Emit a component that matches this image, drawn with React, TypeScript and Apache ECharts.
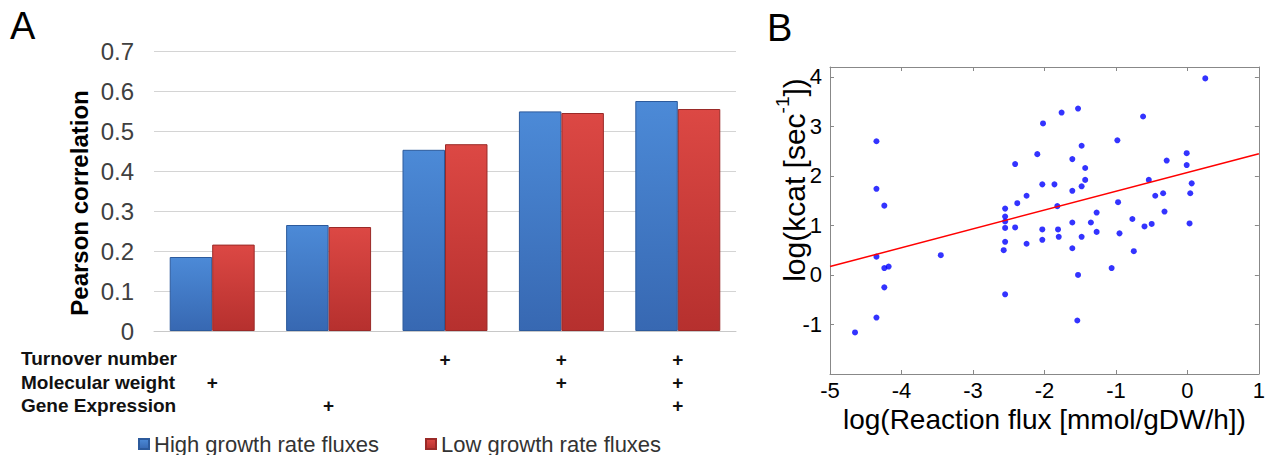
import React, { useEffect, useRef } from 'react';
import * as echarts from 'echarts';

// Panel A data
const combos = ['MW', 'GE', 'TN', 'TN+MW', 'TN+MW+GE'];
const highGrowth = [0.185, 0.265, 0.453, 0.549, 0.575];
const lowGrowth = [0.216, 0.26, 0.467, 0.545, 0.555];
const featureNames = ['Turnover number', 'Molecular weight', 'Gene Expression'];
const turnoverUsed = [0, 0, 1, 1, 1];
const mwUsed = [1, 0, 0, 1, 1];
const geneUsed = [0, 1, 0, 0, 1];
const seriesNames = ['High growth rate fluxes', 'Low growth rate fluxes'];

// Panel B data
const fluxLog = [
  -4.65, -4.35, -4.35, -4.24, -4.35, -4.24, -4.18, -4.24, -4.35, -3.45,
  -2.55, -2.55, -2.55, -2.55, -2.55, -2.57, -2.55, -2.41, -2.38, -2.41,
  -2.25, -2.25, -2.02, -1.76, -1.53, -2.10, -1.48, -1.61, -1.43, -1.43,
  -1.48, -1.61, -2.03, -1.86, -1.82, -2.03, -2.03, -1.81, -1.80, -1.61,
  -1.61, -1.48, -1.53, -1.54, -1.35, -1.27, -1.27, -1.06, -0.98, -0.97,
  -0.95, -0.77, -0.75, -0.62, -0.54, -0.60, -0.50, -0.45, -0.34, -0.29,
  -0.32, -0.01, -0.01, 0.06, 0.04, 0.03, 0.25,
];
const kcatLog = [
  -1.16, 2.70, 1.74, 1.40, 0.37, 0.14, 0.17, -0.25, -0.86, 0.40,
  1.34, 1.18, 1.08, 0.95, 0.67, 0.50, -0.39, 2.24, 1.45, 0.96,
  1.60, 0.63, 3.06, 3.28, 3.36, 2.44, 2.61, 2.34, 2.16, 1.92,
  1.79, 1.70, 1.83, 1.83, 1.39, 0.92, 0.71, 0.92, 0.77, 1.06,
  0.54, 0.77, 0.00, -0.92, 1.06, 1.26, 0.87, 0.14, 2.72, 1.47,
  0.84, 1.13, 0.48, 3.20, 1.92, 0.98, 1.03, 1.60, 1.65, 2.31,
  1.28, 2.46, 2.22, 1.85, 1.65, 1.04, 3.97,
];
const fitX = [-5, 1];
const fitY = [0.17, 2.45];

const FONT = '"Liberation Sans", Arial, sans-serif';

export default function App() {
  const ref = useRef<HTMLDivElement>(null);
  useEffect(() => {
    if (!ref.current) return;
    const chart = echarts.init(ref.current, undefined, { renderer: 'svg' });
    const blue = new echarts.graphic.LinearGradient(0, 0, 0, 1, [
      { offset: 0, color: '#4c8ad7' },
      { offset: 1, color: '#3768b2' },
    ]);
    const red = new echarts.graphic.LinearGradient(0, 0, 0, 1, [
      { offset: 0, color: '#dc4844' },
      { offset: 1, color: '#b6302e' },
    ]);
    const featureRows = [turnoverUsed, mwUsed, geneUsed];
    const rowY = [358, 382, 405];
    const boxAxis = {
      axisLine: { show: true, onZero: false, lineStyle: { color: '#888' } },
      axisTick: { show: true, inside: true, length: 4, lineStyle: { color: '#888' } },
      splitLine: { show: false },
    };
    const option: any = {
      animation: false,
      backgroundColor: '#ffffff',
      textStyle: { fontFamily: FONT },
      grid: [
        { left: 154, top: 51, width: 582, height: 280 },
        { left: 830, top: 67, width: 434, height: 307 },
      ],
      legend: {
        data: seriesNames,
        left: 133,
        top: 428,
        icon: 'rect',
        itemWidth: 10,
        itemHeight: 10,
        itemGap: 46,
        textStyle: { fontSize: 22, color: '#333', fontFamily: FONT },
      },
      xAxis: [
        {
          gridIndex: 0,
          type: 'category',
          data: combos,
          axisLine: { lineStyle: { color: '#c8c8c8' } },
          axisTick: { show: false },
          axisLabel: {
            interval: 0,
            margin: 17,
            fontSize: 19,
            fontWeight: 'bold',
            lineHeight: 23,
            color: '#111',
            formatter: (_v: string, idx: number) =>
              featureRows.map((r) => (r[idx] ? '+' : ' ')).join('\n'),
          },
        },
        {
          gridIndex: 1,
          type: 'value',
          position: 'bottom',
          min: -5,
          max: 1,
          interval: 1,
          ...boxAxis,
          axisLabel: { fontSize: 22, color: '#000', margin: 5 },
          name: 'log(Reaction flux [mmol/gDW/h])',
          nameLocation: 'middle',
          nameGap: 17,
          nameTextStyle: { fontSize: 28, color: '#000', fontFamily: FONT },
        },
        {
          gridIndex: 1,
          type: 'value',
          position: 'top',
          min: -5,
          max: 1,
          interval: 1,
          ...boxAxis,
          axisLabel: { show: false },
        },
      ],
      yAxis: [
        {
          gridIndex: 0,
          type: 'value',
          min: 0,
          max: 0.7,
          interval: 0.1,
          axisLine: { show: false },
          axisTick: { show: false },
          axisLabel: {
            fontSize: 24,
            color: '#404040',
            margin: 20,
            formatter: (v: number) => (v === 0 ? '0' : v.toFixed(1)),
          },
          splitLine: { lineStyle: { color: '#d4d4d4' } },
        },
        {
          gridIndex: 1,
          type: 'value',
          position: 'left',
          min: -2,
          max: 4.2,
          interval: 1,
          ...boxAxis,
          axisLabel: {
            fontSize: 22,
            color: '#000',
            margin: 8,
            formatter: (v: number) => (Number.isInteger(v) && v > -2 ? String(v) : ''),
          },
        },
        {
          gridIndex: 1,
          type: 'value',
          position: 'right',
          min: -2,
          max: 4.2,
          interval: 1,
          ...boxAxis,
          axisLabel: { show: false },
        },
      ],
      series: [
        {
          name: seriesNames[0],
          type: 'bar',
          xAxisIndex: 0,
          yAxisIndex: 0,
          data: highGrowth,
          barGap: '0%',
          barCategoryGap: '27%',
          itemStyle: { color: blue, borderColor: '#2c5a9c', borderWidth: 1 },
        },
        {
          name: seriesNames[1],
          type: 'bar',
          xAxisIndex: 0,
          yAxisIndex: 0,
          data: lowGrowth,
          barGap: '0%',
          barCategoryGap: '27%',
          itemStyle: { color: red, borderColor: '#9a2a28', borderWidth: 1 },
        },
        {
          name: 'points',
          type: 'scatter',
          xAxisIndex: 1,
          yAxisIndex: 1,
          symbolSize: 6,
          itemStyle: { color: '#0000ff' },
          data: fluxLog.map((x, i) => [x, kcatLog[i]]),
        },
        {
          name: 'fit',
          type: 'line',
          xAxisIndex: 1,
          yAxisIndex: 1,
          symbol: 'none',
          lineStyle: { color: '#ff0000', width: 1.5 },
          data: fitX.map((x, i) => [x, fitY[i]]),
        },
      ],
      graphic: [
        { type: 'text', x: 10, y: 26, style: { text: 'A', fontSize: 38, fontFamily: FONT, fill: '#000', verticalAlign: 'middle' } },
        { type: 'text', x: 767, y: 28, style: { text: 'B', fontSize: 38, fontFamily: FONT, fill: '#000', verticalAlign: 'middle' } },
        ...featureNames.map((t, i) => ({
          type: 'text',
          x: 21,
          y: rowY[i],
          style: { text: t, fontSize: 19, fontWeight: 'bold', fontFamily: FONT, fill: '#111', verticalAlign: 'middle' },
        })),
        {
          type: 'text',
          x: 79,
          y: 203,
          rotation: Math.PI / 2,
          style: {
            text: 'Pearson correlation',
            fontSize: 24,
            fontWeight: 'bold',
            fontFamily: FONT,
            fill: '#000',
            align: 'center',
            verticalAlign: 'middle',
          },
        },
        {
          type: 'text',
          x: 791,
          y: 180,
          rotation: Math.PI / 2,
          style: {
            text: '{n|log(kcat [sec}{s|-1}{n|])}',
            align: 'center',
            verticalAlign: 'middle',
            fill: '#000',
            rich: {
              n: { fontSize: 30, fontFamily: FONT, lineHeight: 36, verticalAlign: 'bottom', fill: '#000' },
              s: { fontSize: 19, fontFamily: FONT, lineHeight: 19, verticalAlign: 'top', fill: '#000' },
            },
          },
        },
      ],
    };
    chart.setOption(option);
    return () => chart.dispose();
  }, []);
  return (
    <div
      ref={ref}
      style={{ position: 'absolute', left: 0, top: 0, width: 1268, height: 455, background: '#fff' }}
    />
  );
}
